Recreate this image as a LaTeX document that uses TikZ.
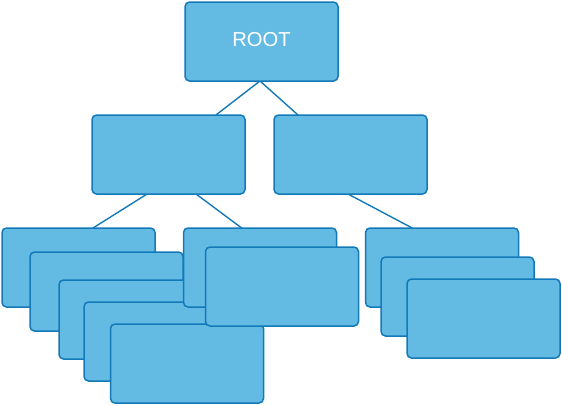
\documentclass[tikz,border=0pt]{standalone}
\usepackage{fontspec}
\setmainfont{Liberation Sans}
\usetikzlibrary{calc}
\definecolor{boxfill}{HTML}{63BBE3}
\definecolor{boxline}{HTML}{1479B8}
\begin{document}
\begin{tikzpicture}[x=1pt,y=-1pt,
  box/.style={draw=boxline,fill=boxfill,line width=1.5pt,rounded corners=4.5pt,
    minimum width=153pt,minimum height=79pt,inner sep=0pt,outer sep=0pt,anchor=north west},
  link/.style={draw=boxline,line width=1.4pt}]
\useasboundingbox (0,0) rectangle (562,405);
% boxes (coordinates only, drawn later)
\path
  node[box,draw=none,fill=none] (root) at (185,2) {}
  node[box,draw=none,fill=none] (l) at (92,115) {}
  node[box,draw=none,fill=none] (r) at (274,115) {}
  node[box,draw=none,fill=none] (a) at (2,228) {}
  node[box,draw=none,fill=none] (b) at (183.5,228) {}
  node[box,draw=none,fill=none] (c) at (365.5,228) {};
% connectors
\draw[link] ($(root.south west)!0.49!(root.south east)$) -- ($(l.north west)!0.81!(l.north east)$);
\draw[link] ($(root.south west)!0.49!(root.south east)$) -- ($(r.north west)!0.157!(r.north east)$);
\draw[link] ($(l.south west)!0.36!(l.south east)$) -- ($(a.north west)!0.595!(a.north east)$);
\draw[link] ($(l.south west)!0.68!(l.south east)$) -- ($(b.north west)!0.38!(b.north east)$);
\draw[link] ($(r.south west)!0.484!(r.south east)$) -- ($(c.north west)!0.305!(c.north east)$);
% boxes on top
\node[box] (root2) at (185,2) {};
\node[text=white,font=\fontsize{20.2}{22}\selectfont,anchor=base,inner sep=0pt] (rootlabel) at ($(root2.center)+(0,5.2)$) {ROOT};
\node[box] (l2) at (92,115) {};
\node[box] (r2) at (274,115) {};
\node[box] (a0) at (2,228) {};
\node[box] (a1) at (30,252) {};
\node[box] (a2) at (59,280) {};
\node[box] (a3) at (84,302) {};
\node[box] (a4) at (110.5,324) {};
\node[box] (b0) at (183.5,228) {};
\node[box] (b1) at (205.5,247) {};
\node[box] (c0) at (365.5,228) {};
\node[box] (c1) at (381,257) {};
\node[box] (c2) at (407,279) {};
\end{tikzpicture}
\end{document}
